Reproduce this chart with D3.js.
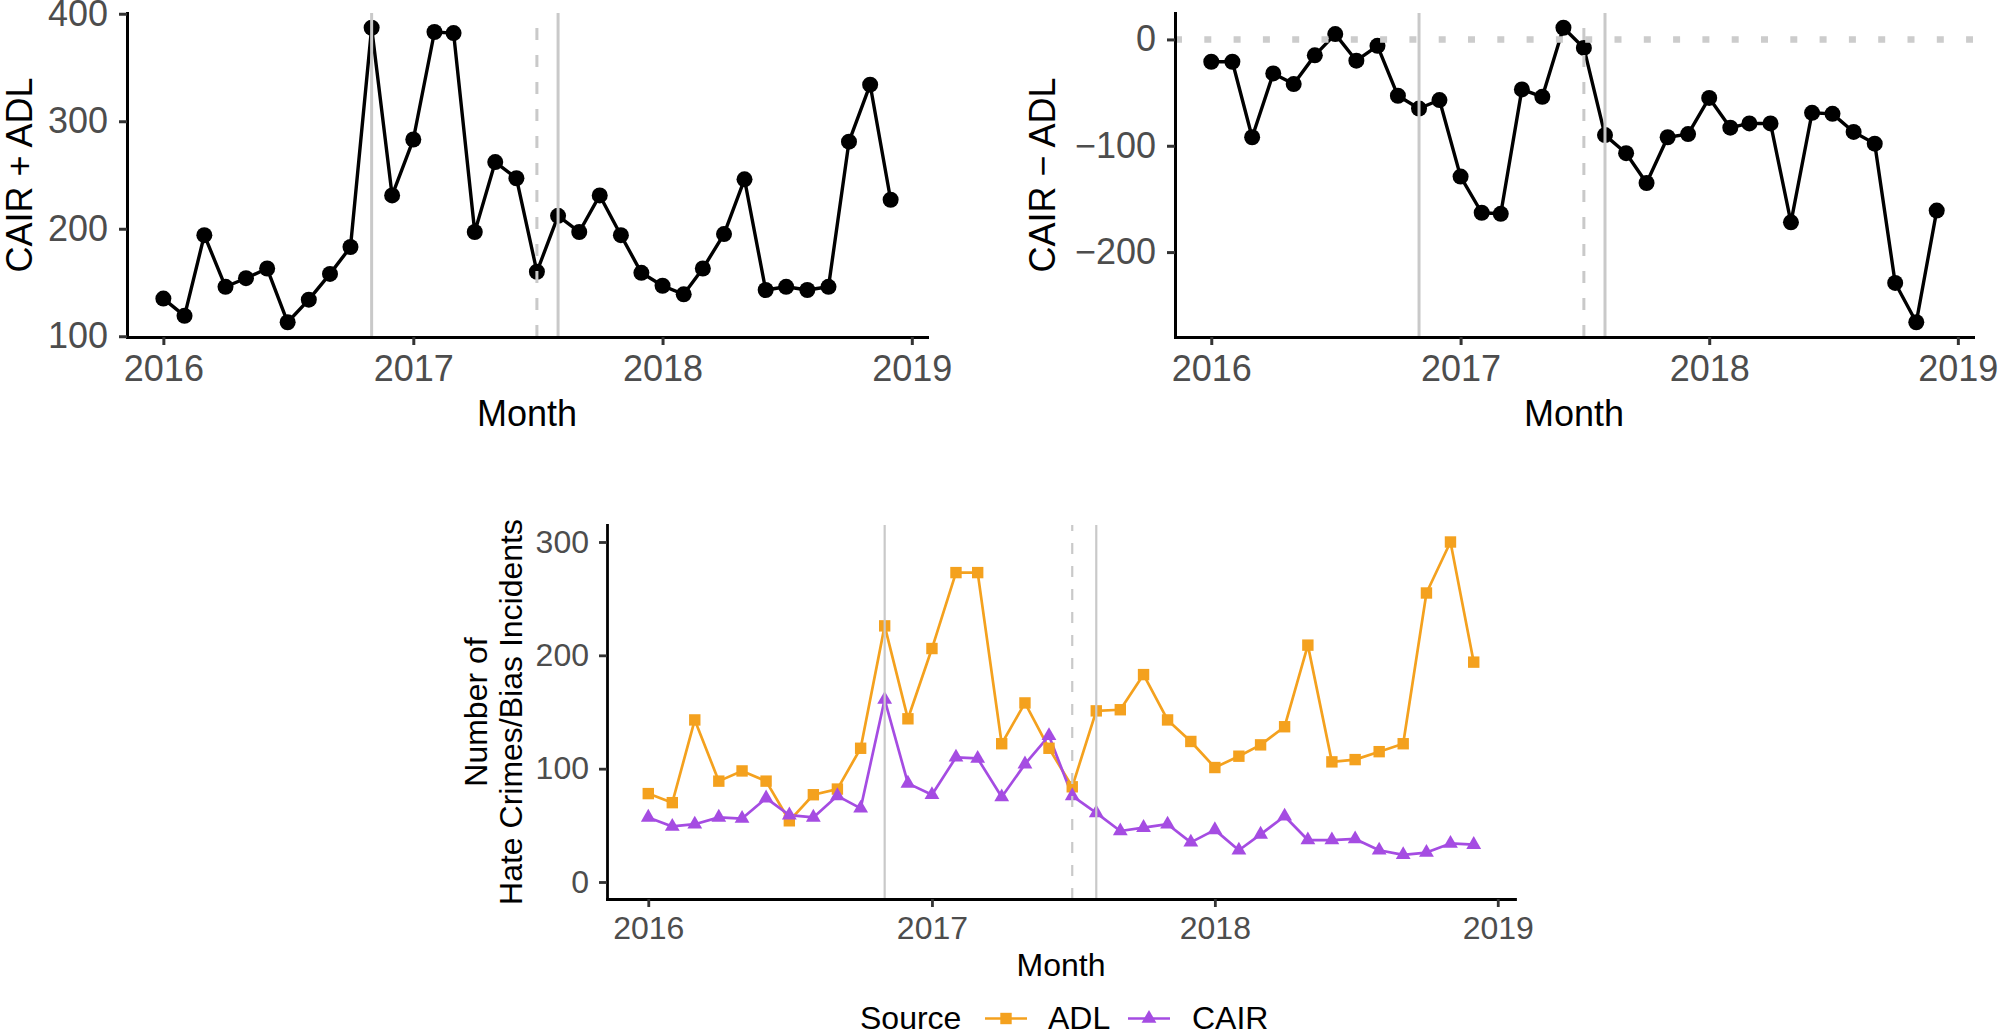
<!DOCTYPE html>
<html><head><meta charset="utf-8">
<script src="https://cdn.jsdelivr.net/npm/d3@7"></script>
<style>
html,body{margin:0;padding:0;background:#fff;}
svg{display:block;font-family:"Liberation Sans",Arial,Helvetica,sans-serif;}
</style></head><body>
<svg id="chart" width="2000" height="1036"></svg>
<script>
// ---------------- data ----------------
const months = [
  "2016-01","2016-02","2016-03","2016-04","2016-05","2016-06","2016-07","2016-08","2016-09","2016-10","2016-11","2016-12",
  "2017-01","2017-02","2017-03","2017-04","2017-05","2017-06","2017-07","2017-08","2017-09","2017-10","2017-11","2017-12",
  "2018-01","2018-02","2018-03","2018-04","2018-05","2018-06","2018-07","2018-08","2018-09","2018-10","2018-11","2018-12"
];
const cairPlusAdl = [135,119,194,146,154,163,113,134,158,183,387,231,
                     283,383,382,197,262,247,160,212,197,231,194,159,
                     147,139,163,195,246,143,146,143,146,281,334,227];
const cairMinusAdl = [-21,-21,-92,-32,-42,-15,5,-20,-6,-53,-65,-57,
                      -129,-163,-164,-47,-54,11,-8,-90,-107,-135,-92,-89,
                      -55,-83,-79,-79,-172,-69,-70,-87,-98,-229,-266,-161];
const adlCounts = [78,70,143,89,98,89,54,77,82,118,226,144,
                   206,273,273,122,158,118,84,151,152,183,143,124,
                   101,111,121,137,209,106,108,115,122,255,300,194];
const cairCounts = [57,49,51,57,56,74,59,57,76,65,161,87,
                    77,110,109,75,104,129,76,61,45,48,51,35,
                    46,28,42,58,37,37,38,28,24,26,34,33];
const sources = ["ADL","CAIR"];
const yearTicks = ["2016-01-01","2017-01-01","2018-01-01","2019-01-01"];
const sumTicks = [100,200,300,400];
const diffTicks = [0,-100,-200];
const countTicks = [0,100,200,300];
const solidEvents = ["2016-11-01","2017-08-01"];
const dashedEvents = ["2017-07-01"];

// ---------------- styles ----------------
const COLORS = {ADL:"#F4A11E", CAIR:"#A54CE2"};
const REF = "#c9c9c9";
const FONT_TICK_COLOR = "#4d4d4d";

const parseM = d3.timeParse("%Y-%m");
const parseD = d3.timeParse("%Y-%m-%d");
const dates = months.map(parseM);
const yearDates = yearTicks.map(parseD);
const t0 = dates[0], t1 = dates[dates.length-1];
const pad = (t1 - t0) * 0.05;
const xDomain = [new Date(+t0 - pad), new Date(+t1 + pad)];

function yDomain(vals, incZero){
  let lo = d3.min(vals), hi = d3.max(vals);
  if (incZero){ lo = Math.min(lo,0); hi = Math.max(hi,0); }
  const p = (hi-lo)*0.05;
  return [lo-p, hi+p];
}

const svg = d3.select("#chart");
svg.append("rect").attr("width",2000).attr("height",1036).attr("fill","#fff");

function axes(g, x, y, o){
  const xa = d3.axisBottom(x).tickValues(yearDates).tickFormat(d3.timeFormat("%Y"))
    .tickSize(8).tickSizeOuter(0).tickPadding(o.xPad);
  const ya = d3.axisLeft(y).tickValues(o.yTicks).tickFormat(d3.format("d"))
    .tickSize(8).tickSizeOuter(0).tickPadding(o.yPad);
  const gx = g.append("g").attr("transform",`translate(0,${o.bottom})`).call(xa);
  const gy = g.append("g").attr("transform",`translate(${o.left},0)`).call(ya);
  [gx,gy].forEach(a=>{
    a.attr("font-family",null).attr("font-size",null);
    a.select(".domain").attr("stroke","#000").attr("stroke-width",o.axisW).attr("stroke-linecap","square");
    a.selectAll(".tick line").attr("stroke","#333").attr("stroke-width",o.axisW);
    a.selectAll(".tick text").attr("fill",FONT_TICK_COLOR).style("font-size",o.tickFont+"px");
  });
}

function refLines(g, x, yTop, yBot, w, dash){
  solidEvents.forEach(s=>{
    const xv = x(parseD(s));
    g.append("line").attr("x1",xv).attr("x2",xv).attr("y1",yBot).attr("y2",yTop)
      .attr("stroke",REF).attr("stroke-width",w);
  });
  dashedEvents.forEach(s=>{
    const xv = x(parseD(s));
    g.append("line").attr("x1",xv).attr("x2",xv).attr("y1",yBot).attr("y2",yTop)
      .attr("stroke",REF).attr("stroke-width",w).attr("stroke-dasharray",dash);
  });
}

// ---------------- top panels ----------------
function topPanel(vals, L, R, yTicks, title, titleX, withZero){
  const top = 13, bottom = 337;
  const x = d3.scaleTime().domain(xDomain).range([L, R]);
  const y = d3.scaleLinear().domain(yDomain(vals, withZero)).range([bottom, top]);
  const g = svg.append("g");
  const line = d3.line().x((d,i)=>x(dates[i])).y(d=>y(d));
  g.append("path").datum(vals).attr("d",line).attr("fill","none")
    .attr("stroke","#000").attr("stroke-width",3.4).attr("stroke-linejoin","round");
  g.selectAll("circle.pt").data(vals).enter().append("circle").attr("class","pt")
    .attr("cx",(d,i)=>x(dates[i])).attr("cy",d=>y(d)).attr("r",8).attr("fill","#000");
  if (withZero){
    g.append("line").attr("x1",L).attr("x2",R).attr("y1",y(0)).attr("y2",y(0))
      .attr("stroke","#cccccc").attr("stroke-width",6.5).attr("stroke-dasharray","7,22.3");
  }
  refLines(g, x, top, bottom, 3, "12,15");
  axes(g, x, y, {bottom, left:L, yTicks, xPad:10, yPad:11, axisW:3, tickFont:36});
  g.append("text").attr("x",(L+R)/2).attr("y",426).attr("text-anchor","middle")
    .style("font-size","36px").attr("fill","#000").text("Month");
  g.append("text").attr("transform",`translate(${titleX},${(top+bottom)/2}) rotate(-90)`)
    .attr("text-anchor","middle").style("font-size","36px").attr("fill","#000").text(title);
}
topPanel(cairPlusAdl, 127, 927, sumTicks, "CAIR + ADL", 32, false);
topPanel(cairMinusAdl, 1175, 1973, diffTicks, "CAIR \u2212 ADL", 1055, true);

// ---------------- bottom panel ----------------
(function(){
  const L = 607, R = 1515, top = 525, bottom = 899;
  const x = d3.scaleTime().domain(xDomain).range([L, R]);
  const y = d3.scaleLinear().domain(yDomain(adlCounts.concat(cairCounts), true)).range([bottom, top]);
  const g = svg.append("g");
  const series = [adlCounts, cairCounts];
  const shapes = [d3.symbol(d3.symbolSquare, 130), d3.symbol(d3.symbolTriangle, 95)];
  const line = d3.line().x((d,i)=>x(dates[i])).y(d=>y(d));
  series.forEach((vals,k)=>{
    g.append("path").datum(vals).attr("d",line).attr("fill","none")
      .attr("stroke",COLORS[sources[k]]).attr("stroke-width",2.7).attr("stroke-linejoin","round");
  });
  series.forEach((vals,k)=>{
    g.selectAll("path.m"+k).data(vals).enter().append("path").attr("class","m"+k)
      .attr("d",shapes[k]).attr("fill",COLORS[sources[k]])
      .attr("transform",(d,i)=>`translate(${x(dates[i])},${y(d)})`);
  });
  refLines(g, x, top, bottom, 2.2, "11,12");
  axes(g, x, y, {bottom, left:L, yTicks:countTicks, xPad:9, yPad:10, axisW:2.8, tickFont:32});
  g.append("text").attr("x",(L+R)/2).attr("y",976).attr("text-anchor","middle")
    .style("font-size","32px").attr("fill","#000").text("Month");
  const t = g.append("text").attr("transform",`translate(0,${(top+bottom)/2}) rotate(-90)`)
    .attr("text-anchor","middle").style("font-size","32px").attr("fill","#000");
  t.append("tspan").attr("x",0).attr("y",487).text("Number of");
  t.append("tspan").attr("x",0).attr("y",522).text("Hate Crimes/Bias Incidents");

  // legend
  const lg = svg.append("g");
  const ly = 1018.5, base = 1029;
  lg.append("text").attr("x",860).attr("y",base).style("font-size","32px").attr("fill","#000").text("Source");
  const keys = [{x0:985, tx:1048}, {x0:1128, tx:1192}];
  sources.forEach((s,k)=>{
    lg.append("line").attr("x1",keys[k].x0).attr("x2",keys[k].x0+42).attr("y1",ly).attr("y2",ly)
      .attr("stroke",COLORS[s]).attr("stroke-width",2.7);
    lg.append("path").attr("d",shapes[k]).attr("fill",COLORS[s])
      .attr("transform",`translate(${keys[k].x0+21},${ly})`);
    lg.append("text").attr("x",keys[k].tx).attr("y",base).style("font-size","32px").attr("fill","#000").text(s);
  });
})();
</script>
</body></html>
